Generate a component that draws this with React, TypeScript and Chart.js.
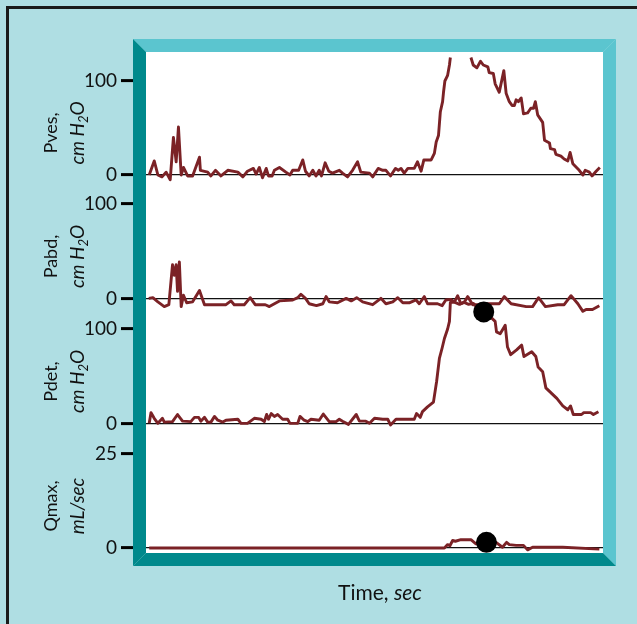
import { useEffect, useRef } from 'react';
import { Chart, registerables } from 'chart.js';

Chart.register(...registerables);

// ---- data (time in % of recording, values in panel units) ----
const pvesSamples: Array<[number, number | null]> = [
  [0.7,0],[1.8,15],[2.6,0],[3.5,-2],[4.4,3],[5.3,-5],[6.0,40],[6.6,14],[7.1,51],[7.7,0],[8.2,8],[9.1,-1],[10.2,-1],[10.8,7],[11.7,19],[11.9,5],[13.5,3],[14.2,-1],[15.2,5],[16.4,-1],[17.9,5],[20.1,3],[21.2,-2],[22.2,4],[23.5,7],[24.1,1],[24.8,8],[25.5,-3],[26.3,7],[26.8,-1],[27.6,-1],[28.1,5],[29.2,8],[30.6,3],[31.5,0],[32.1,5],[33.4,5],[34.3,16],[34.9,4],[35.7,-1],[36.5,5],[37.2,-1],[37.9,5],[38.4,-1],[39.2,13],[40.0,4],[40.8,2],[42.3,5],[43.0,2],[44.1,-2],[45.2,5],[46.3,14],[47.0,3],[48.9,2],[49.6,-2],[50.8,7],[51.8,5],[52.5,5],[53.5,-1],[54.6,7],[55.2,5],[55.8,7],[56.5,2],[57.3,7],[58.7,7],[59.4,14],[60.2,4],[60.8,16],[62.4,16],[63.1,23],[63.5,35],[64.0,42],[64.4,67],[64.9,78],[65.1,88],[65.4,100],[66.0,106],[66.4,117],[66.6,125],[69.0,null],[71.1,125],[71.6,117],[72.4,114],[73.2,121],[73.8,117],[74.8,115],[75.1,109],[76.0,108],[76.4,97],[77.3,88],[78.3,111],[78.8,87],[79.5,78],[80.1,74],[80.6,74],[81.0,80],[81.5,78],[82.1,82],[82.6,65],[83.5,66],[84.2,71],[84.8,71],[85.2,78],[85.7,64],[86.8,56],[87.2,37],[88.3,34],[88.5,28],[89.4,27],[89.7,22],[90.8,20],[91.5,17],[92.3,15],[92.8,24],[93.4,12],[94.8,5],[95.6,0],[96.1,5],[97.0,3],[97.6,-1],[98.5,4],[99.3,8]
];

const pabdSamples: Array<[number, number]> = [
  [0.6,0.7],[1.5,1.4],[2.6,-3],[4.0,-8],[5.0,-6],[5.8,36],[6.2,25],[6.6,36],[6.9,8],[7.3,39],[7.7,-8],[8.2,4],[8.9,-4],[10.2,-3],[11.7,9],[12.8,-6],[17.5,-6],[18.6,-2],[19.3,-6],[21.5,-6],[22.8,1.4],[23.9,-6],[26.1,-6],[27.0,-8],[29.2,-2],[32.1,-1],[33.2,1.4],[33.9,5],[34.9,0.7],[35.7,-5],[37.3,-7],[38.7,-5],[39.4,2.5],[40.1,-3],[41.9,-4],[43.8,0.7],[44.9,-2],[46.1,1.4],[47.4,-3],[49.6,-6],[51.4,0.7],[52.5,-5],[54.0,-3],[55.1,1.4],[56.2,-4],[57.6,-4],[59.1,-1],[59.8,-5],[60.9,2.5],[61.6,-5],[63.8,-5],[64.8,-7],[65.6,-1],[66.7,-0.4],[67.5,-3],[68.2,3.5],[68.9,-5],[69.7,-3],[70.4,2.5],[71.5,-6],[72.9,-6],[75.1,-5],[77.3,-5],[78.4,2.5],[79.9,-5],[83.2,-8],[84.6,-8],[85.9,1.4],[87.4,-8],[90.1,-6],[91.5,-6],[93.0,3.5],[94.5,-5],[95.6,-13],[96.3,-11],[97.7,-11],[99.2,-7]
];

const pdetSamples: Array<[number, number]> = [
  [0.7,0.7],[1.1,12],[1.8,6],[2.6,0.7],[3.6,6],[4.0,2],[5.8,2.5],[6.9,10],[8.0,3],[9.8,2.5],[10.6,7],[11.5,7],[12.0,3],[12.8,7],[13.5,2],[14.2,2],[15.0,8],[15.7,4],[16.8,2],[17.5,4],[20.1,5],[20.8,0.7],[22.2,0.7],[23.7,6],[25.2,5],[25.9,2.5],[26.4,10],[26.8,5],[27.4,11],[28.1,8],[28.8,10],[29.9,5],[31.0,5],[31.5,0.7],[33.2,0.7],[33.7,8],[34.6,4],[35.4,2.5],[36.1,5],[37.9,4],[38.8,10.5],[40.1,2.5],[41.6,2.5],[42.3,5],[43.0,3],[44.3,-0.4],[46.0,10],[46.7,3],[48.1,3],[48.9,0.7],[50.0,6],[51.8,5],[52.9,5],[53.5,-1],[54.7,5],[56.5,5],[58.7,5],[59.2,11],[60.0,7],[60.5,13],[61.6,18],[62.9,23],[63.6,45],[64.2,69],[64.8,80],[65.3,90],[66.0,100],[66.4,108],[66.6,128],[67.6,128],[68.6,126],[69.6,128],[70.6,126],[71.6,127],[72.4,123],[73.9,118],[75.3,113],[76.4,108],[76.7,97],[77.5,95],[78.6,104],[79.1,81],[79.8,73],[81.1,78],[82.2,83],[82.7,71],[84.4,76],[85.3,71],[85.8,60],[86.8,55],[87.5,38],[88.8,32],[89.9,27],[91.2,19],[92.3,15],[92.9,19],[93.5,10],[95.3,10],[95.8,12],[97.3,12],[97.9,10],[99.0,13]
];

const qmaxSamples: Array<[number, number]> = [
  [0.7,0],[65.3,0],[66.0,0.9],[66.5,0.6],[67.1,2.0],[67.7,1.8],[68.9,2.2],[71.1,2.2],[72.2,1.1],[74.4,1.5],[76.6,1.5],[78.0,0.2],[78.9,1.5],[79.5,0.9],[81.0,0.7],[82.6,0.7],[83.5,-0.5],[84.6,0.2],[91.2,0.2],[99.2,-0.3]
];

const pdetMarker: Array<[number, number]> = [[73.9, 118]];
const qmaxMarker: Array<[number, number]> = [[74.5, 1.5]];

const pressureTicks = [0, 100];
const flowTicks = [0, 25];

const panelNames = ['Pves,', 'Pabd,', 'Pdet,', 'Qmax,'];
const panelUnits = ['cm H|2|O', 'cm H|2|O', 'cm H|2|O', 'mL/sec'];
const xTitleMain = 'Time, ';
const xTitleUnit = 'sec';

// ---- styles ----
const BG = '#afdee3';
const TEAL_LIGHT = '#5bc5cf';
const TEAL_DARK = '#00898c';
const TRACE = '#7b2226';
const FONT = 'Lato, "Open Sans", sans-serif';

const toXY = (arr: Array<[number, number | null]>) => arr.map(([x, y]) => ({ x, y }));

const axisBase = (ticks: number[], min: number, max: number, weight: number, stackWeight: number) => ({
  type: 'linear' as const,
  position: 'left' as const,
  stack: 'panels',
  stackWeight,
  weight,
  min,
  max,
  afterBuildTicks: (s: any) => { s.ticks = ticks.map((v) => ({ value: v })); },
  afterFit: (s: any) => { s.width = 146; },
  border: { display: false },
  grid: {
    drawOnChartArea: true,
    color: (c: any) => (c.tick && c.tick.value === 0 ? '#111' : 'rgba(0,0,0,0)'),
    lineWidth: 1.2,
    tickColor: '#000',
    tickWidth: 3,
    tickLength: 25,
  },
  ticks: { font: { family: FONT, size: 19 }, color: '#111', padding: 4 },
});

const backgroundPlugin = {
  id: 'bg',
  beforeDraw(chart: any) {
    const { ctx, width, height, chartArea } = chart;
    ctx.save();
    ctx.fillStyle = BG;
    ctx.fillRect(0, 0, width, height);
    ctx.fillStyle = '#1a1a1a';
    ctx.fillRect(6, 6, width - 6, 3);
    ctx.fillRect(6, 6, 3, height - 6);
    ctx.fillStyle = '#ffffff';
    ctx.fillRect(chartArea.left, chartArea.top, chartArea.right - chartArea.left, chartArea.bottom - chartArea.top);
    ctx.restore();
  },
};

const framePlugin = {
  id: 'frame',
  afterDraw(chart: any) {
    const { ctx, chartArea } = chart;
    const { left: L, top: T, right: R, bottom: B } = chartArea;
    const f = 13;
    const oL = L - f, oT = T - f, oR = R + f, oB = B + f;
    const poly = (pts: number[][], color: string) => {
      ctx.beginPath();
      ctx.moveTo(pts[0][0], pts[0][1]);
      for (let i = 1; i < pts.length; i++) ctx.lineTo(pts[i][0], pts[i][1]);
      ctx.closePath();
      ctx.fillStyle = color;
      ctx.fill();
    };
    ctx.save();
    poly([[oL, oT], [oR, oT], [R, T], [L, T]], TEAL_LIGHT);
    poly([[oR, oT], [oR, oB], [R, B], [R, T]], TEAL_LIGHT);
    poly([[oL, oT], [L, T], [L, B], [oL, oB]], TEAL_DARK);
    poly([[oL, oB], [L, B], [R, B], [oR, oB]], TEAL_DARK);
    ctx.restore();

    // titles
    const ids = ['yPves', 'yPabd', 'yPdet', 'yQ'];
    ctx.save();
    ctx.fillStyle = '#111';
    ctx.textBaseline = 'alphabetic';
    ids.forEach((id, i) => {
      const s = chart.scales[id];
      const tv = i === 3 ? flowTicks : pressureTicks;
      const cy = (s.getPixelForValue(tv[0]) + s.getPixelForValue(tv[1])) / 2 + 5;
      // line 1
      ctx.save();
      ctx.translate(57, cy);
      ctx.rotate(-Math.PI / 2);
      ctx.font = `18px ${FONT}`;
      const w1 = ctx.measureText(panelNames[i]).width;
      ctx.fillText(panelNames[i], -w1 / 2, 0);
      ctx.restore();
      // line 2 (italic, with optional subscript)
      const parts = panelUnits[i].split('|');
      const fonts = parts.map((_, k) => (k === 1 ? `italic 13px ${FONT}` : `italic 19px ${FONT}`));
      let total = 0;
      const widths = parts.map((p, k) => { ctx.font = fonts[k]; const w = ctx.measureText(p).width; total += w; return w; });
      ctx.save();
      ctx.translate(84, cy);
      ctx.rotate(-Math.PI / 2);
      let x = -total / 2;
      parts.forEach((p, k) => {
        ctx.font = fonts[k];
        ctx.fillText(p, x, k === 1 ? 4 : 0);
        x += widths[k];
      });
      ctx.restore();
    });
    // x title
    ctx.font = `21px ${FONT}`;
    const a = ctx.measureText(xTitleMain).width;
    ctx.font = `italic 21px ${FONT}`;
    const b = ctx.measureText(xTitleUnit).width;
    const sx = 380 - (a + b) / 2;
    ctx.font = `21px ${FONT}`;
    ctx.fillText(xTitleMain, sx, 600);
    ctx.font = `italic 21px ${FONT}`;
    ctx.fillText(xTitleUnit, sx + a, 600);
    ctx.restore();
  },
};

export default function App() {
  const ref = useRef<HTMLCanvasElement | null>(null);
  useEffect(() => {
    if (!ref.current) return;
    const line = (data: any, yAxisID: string) => ({
      type: 'line' as const,
      data,
      yAxisID,
      borderColor: TRACE,
      borderWidth: 2.9,
      pointRadius: 0,
      tension: 0,
      spanGaps: false,
      borderJoinStyle: 'round' as const,
      clip: false,
    });
    const dot = (data: any, yAxisID: string) => ({
      type: 'line' as const,
      data,
      yAxisID,
      showLine: false,
      pointRadius: 10.5,
      pointBackgroundColor: '#000',
      pointBorderWidth: 0,
      order: -1,
      clip: false,
    });
    const chart = new Chart(ref.current, {
      type: 'line',
      data: {
        datasets: [
          line(toXY(pvesSamples), 'yPves'),
          line(toXY(pabdSamples), 'yPabd'),
          line(toXY(pdetSamples), 'yPdet'),
          line(toXY(qmaxSamples), 'yQ'),
          dot(toXY(pdetMarker), 'yPdet'),
          dot(toXY(qmaxMarker), 'yQ'),
        ] as any,
      },
      options: {
        animation: false,
        responsive: false,
        events: [],
        layout: { padding: { top: 52, right: 34, bottom: 71, left: 0 } },
        plugins: { legend: { display: false }, tooltip: { enabled: false } },
        scales: {
          x: { type: 'linear', min: 0, max: 100, display: false },
          yPves: axisBase(pressureTicks, -15.96, 130.85, 4, 138),
          yPabd: axisBase(pressureTicks, -16.84, 114.74, 3, 125),
          yPdet: axisBase(pressureTicks, -16.84, 114.74, 2, 125),
          yQ: axisBase(flowTicks, -1.33, 28.72, 1, 113),
        } as any,
      },
      plugins: [backgroundPlugin, framePlugin],
    });
    return () => chart.destroy();
  }, []);
  return (
    <div style={{ position: 'fixed', left: 0, top: 0, width: 637, height: 624 }}>
      <canvas ref={ref} width={637} height={624} style={{ display: 'block' }} />
    </div>
  );
}
